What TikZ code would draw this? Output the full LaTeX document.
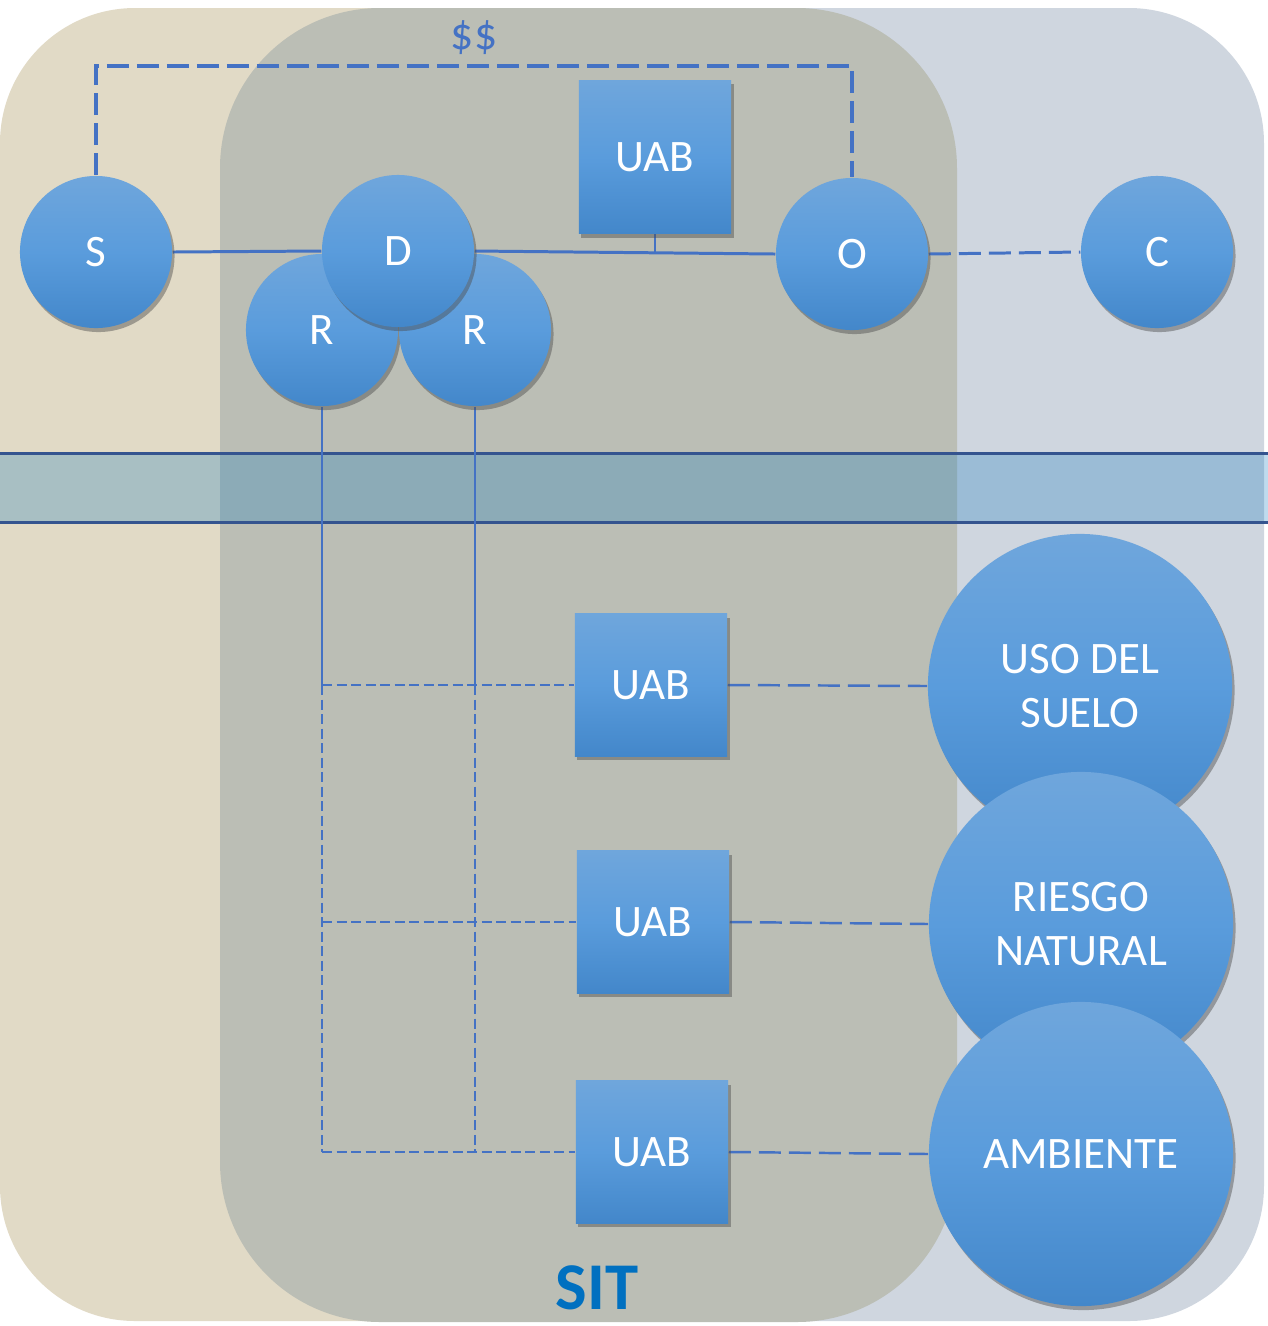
\documentclass[tikz,border=0pt]{standalone}
\usepackage{fontspec}
\setmainfont{Carlito}
\usetikzlibrary{shadows,calc}
\definecolor{tanbg}{HTML}{E1DAC6}
\definecolor{graybg}{HTML}{BBBEB5}
\definecolor{bluebg}{HTML}{CFD6DF}
\definecolor{lineblue}{HTML}{4472C4}
\definecolor{banddark}{HTML}{34548F}
\definecolor{bandfill}{HTML}{0875BD}
\definecolor{ntop}{HTML}{6FA6DC}
\definecolor{nmid}{HTML}{5A9CDC}
\definecolor{nbot}{HTML}{4387CA}
\definecolor{sitblue}{HTML}{0070C0}
\pgfdeclarelayer{bg}
\pgfdeclarelayer{lines}
\pgfsetlayers{bg,lines,main}
\tikzset{
  blob/.style={top color=ntop, bottom color=nbot, middle color=nmid, draw=none,
    text=white, font=\fontsize{12.8}{15.1}\selectfont, inner sep=0pt,
    drop shadow={shadow xshift=0.025cm, shadow yshift=-0.04cm, opacity=0.45, fill=black!70}},
  circ/.style={blob, circle, minimum size=1.52cm},
  bigcirc/.style={blob, circle, minimum size=3.04cm, align=center},
  box/.style={blob, rectangle, minimum width=1.52cm, minimum height=1.42cm},
  conn/.style={draw=lineblue, line width=0.85pt},
  longdash/.style={conn, dash pattern=on 0.22cm off 0.08cm},
  thinline/.style={draw=lineblue, line width=0.6pt},
  shortdash/.style={thinline, dash pattern=on 0.1cm off 0.045cm},
}
\begin{document}
\begin{tikzpicture}[x=0.01cm,y=-0.01cm]
\useasboundingbox (0,0) rectangle (1268,1326);

% nodes
\node[box, minimum height=1.53cm] (uab0) at (655,157) {UAB};
\node[circ] (S) at (96,252) {S};
\node[circ] (R1) at (322,330) {R};
\node[circ] (R2) at (475,330) {R};
\node[circ] (D) at (398,251) {D};
\node[circ] (O) at (852,254) {O};
\node[circ] (C) at (1157,252) {C};
\node[box] (uab1) at (651,685) {UAB};
\node[box] (uab2) at (653,922) {UAB};
\node[box] (uab3) at (652,1152) {UAB};
\node[bigcirc] (uso) at (1080,686) {USO DEL\\SUELO};
\node[bigcirc] (riesgo) at (1081,924) {RIESGO\\NATURAL};
\node[bigcirc] (amb) at (1081,1154) {AMBIENTE};
\node[text=lineblue, font=\fontsize{13}{15}\selectfont] (money) at (474,38) {\$\$};
\node[text=sitblue, font=\fontsize{19}{21}\selectfont\bfseries] (sit) at (597,1288) {SIT};

\coordinate (top) at (474,66);

\begin{pgfonlayer}{bg}
  \fill[tanbg, rounded corners=1.35cm] (0,8) rectangle (700,1321);
  \fill[bluebg, rounded corners=1.35cm] (500,8) rectangle (1264,1321);
  \fill[graybg, rounded corners=1.6cm] (220,8) rectangle (957,1322);
  \fill[bandfill, fill opacity=0.26] (0,453) rectangle (1268,522);
  \draw[banddark, line width=0.85pt] (0,453) -- (1268,453);
  \draw[banddark, line width=0.85pt] (0,522) -- (1268,522);
\end{pgfonlayer}

\begin{pgfonlayer}{lines}
  \draw[conn] (S.east) -- (D.west);
  \draw[conn] (D.east) -- (O.west);
  \draw[conn] (uab0.south) -- (uab0.south |- O.west);
  \draw[longdash] (O.east) -- (C.west);
  \draw[longdash, line width=0.95pt] (S.north) |- (top) -| (O.north);

  \coordinate (a1) at (R1.south |- uab1.west);
  \coordinate (b1) at (R2.south |- uab1.west);
  \coordinate (a2) at (R1.south |- uab2.west);
  \coordinate (b2) at (R2.south |- uab2.west);
  \coordinate (a3) at (R1.south |- uab3.west);
  \coordinate (b3) at (R2.south |- uab3.west);
  \draw[thinline] (R1.south) -- (a1);
  \draw[thinline] (R2.south) -- (b1);
  \draw[shortdash] (a1) -- (a3);
  \draw[shortdash] (b1) -- (b3);
  \draw[shortdash] (a1) -- (uab1.west);
  \draw[shortdash] (a2) -- (uab2.west);
  \draw[shortdash] (a3) -- (uab3.west);

  \draw[longdash, line width=0.7pt] (uab1.east) -- (uso.west);
  \draw[longdash, line width=0.7pt] (uab2.east) -- (riesgo.west);
  \draw[longdash, line width=0.7pt] (uab3.east) -- (amb.west);
\end{pgfonlayer}
\end{tikzpicture}
\end{document}
